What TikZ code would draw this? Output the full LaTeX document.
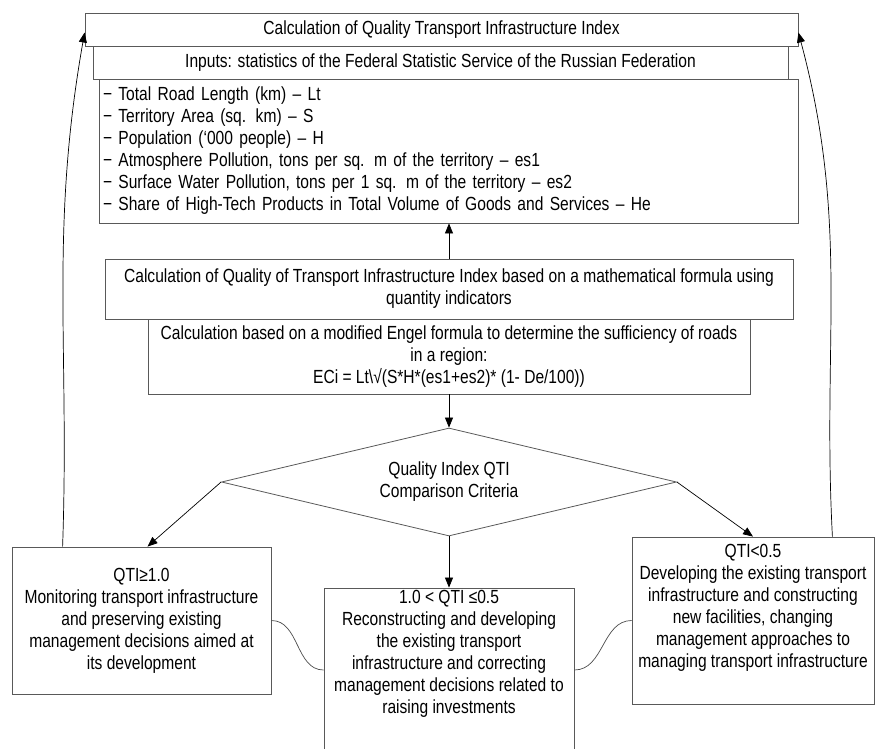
\documentclass[tikz,border=0pt]{standalone}
\usepackage{fontspec}
\setmainfont{Liberation Sans}[FakeStretch=0.82]
\usetikzlibrary{arrows.meta,shapes.geometric}
\begin{document}
\begin{tikzpicture}[x=1pt,y=1pt,
    box/.style={draw=black!65,line width=0.8pt,inner sep=0pt,align=center,
      font=\fontsize{19}{22}\selectfont},
    link/.style={line width=0.7pt,-{Triangle[length=10pt,width=8pt]}}]
  \clip (0,0) rectangle (875,-749);
  \draw
    (441.5,-29.5) node[box,minimum width=713,minimum height=33] (title)
      {Calculation of Quality Transport Infrastructure  Index}
    (440.5,-62.5) node[box,minimum width=695,minimum height=33] (inputs)
      {Inputs: statistics  of the Federal Statistic Service of the Russian Federation}
    (448.5,-151) node[box,align=left,text width=691,inner xsep=4pt,minimum height=144] (list)
      {− Total Road Length (km) – Lt\\
       − Territory Area (sq. km) – S\\
       − Population (‘000 people) – H\\
       − Atmosphere Pollution, tons per sq. m of the territory – es1\\
       − Surface Water Pollution, tons per 1 sq. m of the territory – es2\\
       − Share of High-Tech Products in Total Volume of Goods and Services – He}
    (449,-289) node[box,minimum width=688,minimum height=60] (quality)
      {Calculation of Quality of Transport Infrastructure  Index based on a mathematical formula using\\
       quantity indicators}
    (449,-356.5) node[box,minimum width=602,minimum height=75] (engel)
      {Calculation based on a modified Engel formula to determine the sufficiency of roads\\
       in a region:\\
       ECi = Lt\textbackslash√(S*H*(es1+es2)* (1- De/100))}
    (449,-482) node[box,shape=diamond,aspect=4.2,minimum width=455,minimum height=108] (criteria)
      {Quality Index QTI\\Comparison Criteria}
    (141.5,-620.5) node[box,minimum width=259,minimum height=147] (high)
      {QTI≥1.0\\
       Monitoring transport infrastructure\\
       and preserving existing\\
       management decisions aimed at\\
       its development}
    (449,-670) node[box,minimum width=250,minimum height=164] (mid)
      {1.0 < QTI ≤0.5\\
       Reconstructing and developing\\
       the existing transport\\
       infrastructure and correcting\\
       management decisions related to\\
       raising investments\\[14pt]}
    (753,-620.5) node[box,minimum width=242,minimum height=167] (low)
      {QTI<0.5\\
       Developing the existing transport\\
       infrastructure and constructing\\
       new facilities, changing\\
       management approaches to\\
       managing transport infrastructure\\[8pt]};
  \coordinate (backL) at ([xshift=51pt]high.north west);
  \coordinate (backR) at ([xshift=-42pt]low.north east);
  \coordinate (tipL) at ([yshift=-3pt]title.west);
  \coordinate (tipR) at ([yshift=-3pt]title.east);
  \begin{scope}[link]
    \draw (quality.north) to (quality.north |- list.south);
    \draw (engel.south) to (criteria.north);
    \draw (criteria.west) to ([xshift=6pt]high.north);
    \draw (criteria.south) to (mid.north);
    \draw (criteria.east) to (low.north);
    \draw (backL) to[out=88,in=-100] (tipL);
    \draw (backR) to[out=93,in=-75] (tipR);
  \end{scope}
  \begin{scope}[line width=0.7pt,draw=black!70]
    \draw (high.east) to[out=0,in=180] (mid.west);
    \draw (mid.east) to[out=0,in=180] (low.west);
  \end{scope}
\end{tikzpicture}
\end{document}
